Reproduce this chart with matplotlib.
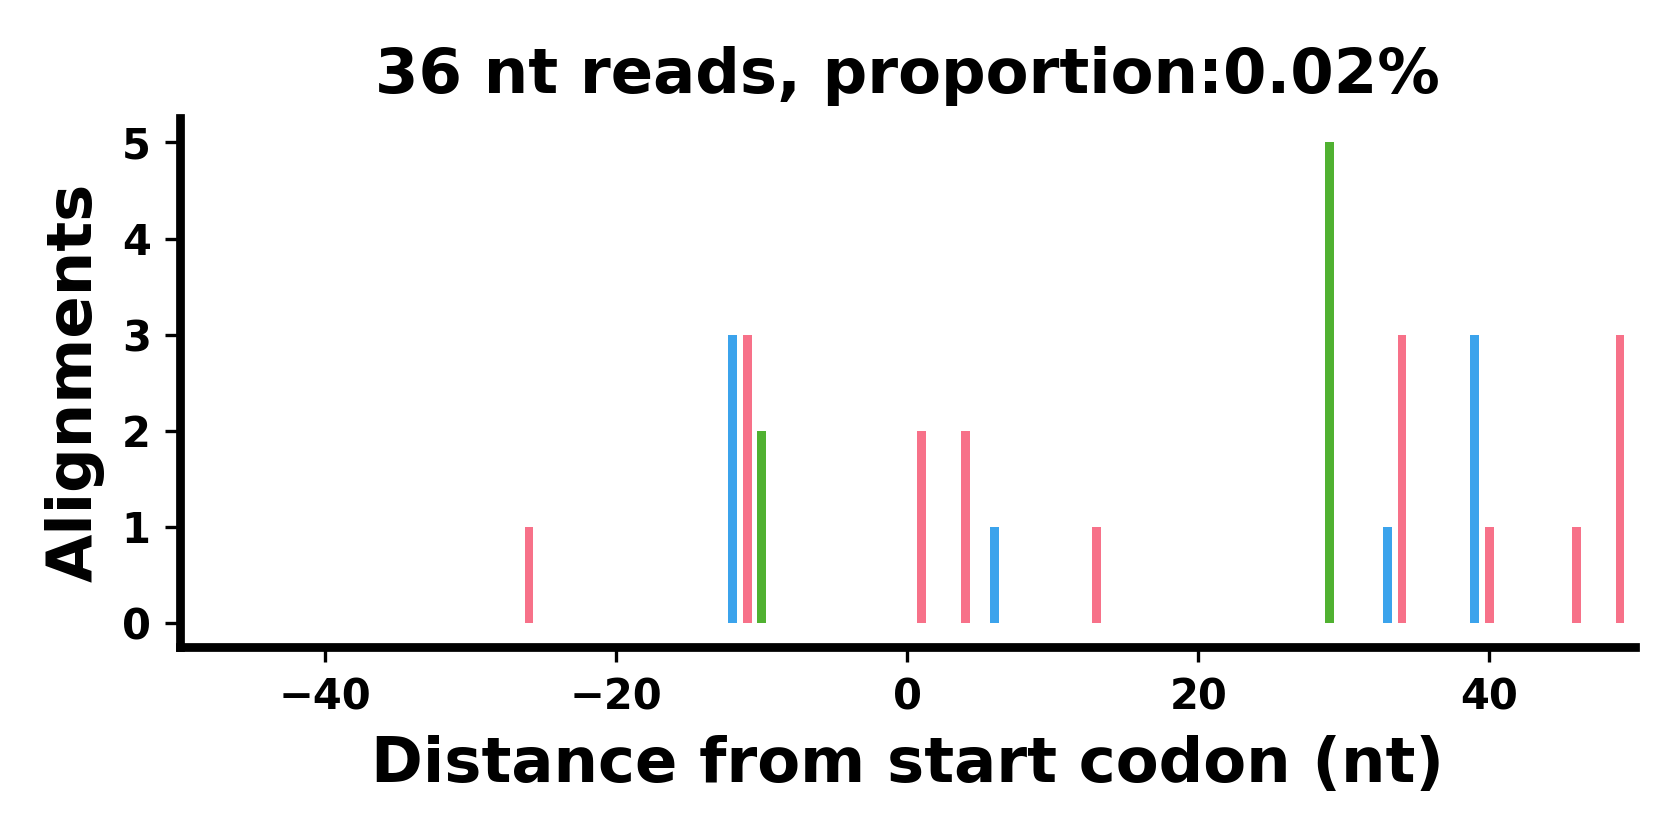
import matplotlib
matplotlib.use("Agg")
import matplotlib.pyplot as plt
import seaborn as sns

positions = [-26, -12, -11, -10, 1, 4, 6, 13, 29, 33, 34, 39, 40, 46, 49]
counts = [1, 3, 3, 2, 2, 2, 1, 1, 5, 1, 3, 3, 1, 1, 3]
title = "36 nt reads, proportion:0.02%"
xlabel = "Distance from start codon (nt)"
ylabel = "Alignments"

palette = sns.color_palette("husl", 3)
# frame 0 -> blue, frame 1 -> pink, frame 2 -> green
frame_colors = {0: palette[2], 1: palette[0], 2: palette[1]}
colors = [frame_colors[p % 3] for p in positions]

plt.rcParams['font.family'] = ['DejaVu Sans']
fig = plt.figure(figsize=(5.6, 2.8), dpi=300)
ax = fig.add_axes([0.1071, 0.2298, 0.8659, 0.6292])
ax.bar(positions, counts, width=0.6, color=colors, linewidth=0)
ax.set_xlim(-50, 50)
ax.set_ylim(-0.25, 5.25)

for s in ["top", "right"]:
    ax.spines[s].set_visible(False)
for s in ["left", "bottom"]:
    ax.spines[s].set_linewidth(2.1)

ax.set_title(title, fontsize=15, fontweight="bold")
ax.set_xlabel(xlabel, fontsize=15, fontweight="bold", labelpad=4)
ax.set_ylabel(ylabel, fontsize=15, fontweight="bold")
ax.tick_params(labelsize=10)
for lab in ax.get_xticklabels() + ax.get_yticklabels():
    lab.set_fontweight("bold")

fig.savefig("out.png", dpi=300)
